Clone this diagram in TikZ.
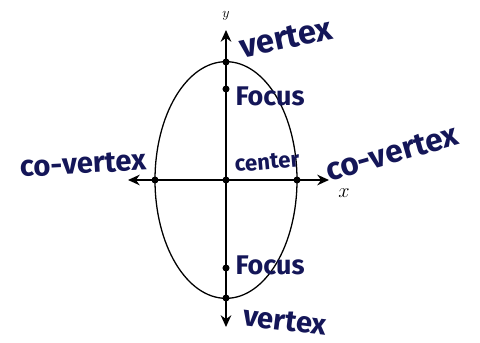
\documentclass[tikz,border=0pt]{standalone}
\usepackage{fontspec}
\newfontfamily\hand{Fira Sans}
\usetikzlibrary{arrows.meta,positioning}
\definecolor{ink}{RGB}{20,22,88}
\tikzset{ax/.style={line width=1.6pt, {Stealth[length=10pt,width=9pt]}-{Stealth[length=10pt,width=9pt]}},
  dot/.style={circle, fill=black, inner sep=0pt, minimum size=6pt},
  lbl/.style={text=ink, inner sep=0pt, font=\hand\bfseries\fontsize{#1}{#1}\selectfont},
  lbl/.default=22}

\begin{document}
\begin{tikzpicture}[x=0.03cm, y=-0.03cm]
  \useasboundingbox (0,0) rectangle (480,343);
  % axes
  \coordinate (ytop) at (226,30);
  \coordinate (ybot) at (226,327);
  \coordinate (xlft) at (128,180);
  \coordinate (xrgt) at (329,180);
  \draw[ax] (ybot) -- (ytop);
  \draw[ax] (xlft) -- (xrgt);
  \node[font=\itshape\fontsize{12}{12}\selectfont] (ylab) at (226,16) {$y$};
  \node[font=\fontsize{19}{19}\selectfont] (xlab) at (344,193) {$x$};
  % ellipse and points
  \node[dot] (ctr) at (226,180) {};
  \draw[line width=1.1pt] (ctr) ellipse [x radius=2.13cm, y radius=3.55cm];
  \node[dot] (vtop) at (226,62) {};
  \node[dot] (vbot) at (226,298) {};
  \node[dot] (ftop) at (226,89) {};
  \node[dot] (fbot) at (226,268) {};
  \node[dot] (cvl) at (155,180) {};
  \node[dot] (cvr) at (297,180) {};
  % labels
  \node[lbl=28, rotate=12] (vtoplab) at (286,38) {vertex};
  \node[lbl=23] (ftoplab) at (270,96) {Focus};
  \node[lbl=19, rotate=5] (ctrlab) at (267,162) {center};
  \node[lbl=27, rotate=16] (cvrlab) at (392,153) {co-vertex};
  \node[lbl=25, rotate=3] (cvllab) at (83,164) {co-vertex};
  \node[lbl=23] (fbotlab) at (270,265) {Focus};
  \node[lbl=25, rotate=-7] (vbotlab) at (285,321) {vertex};
\end{tikzpicture}
\end{document}
